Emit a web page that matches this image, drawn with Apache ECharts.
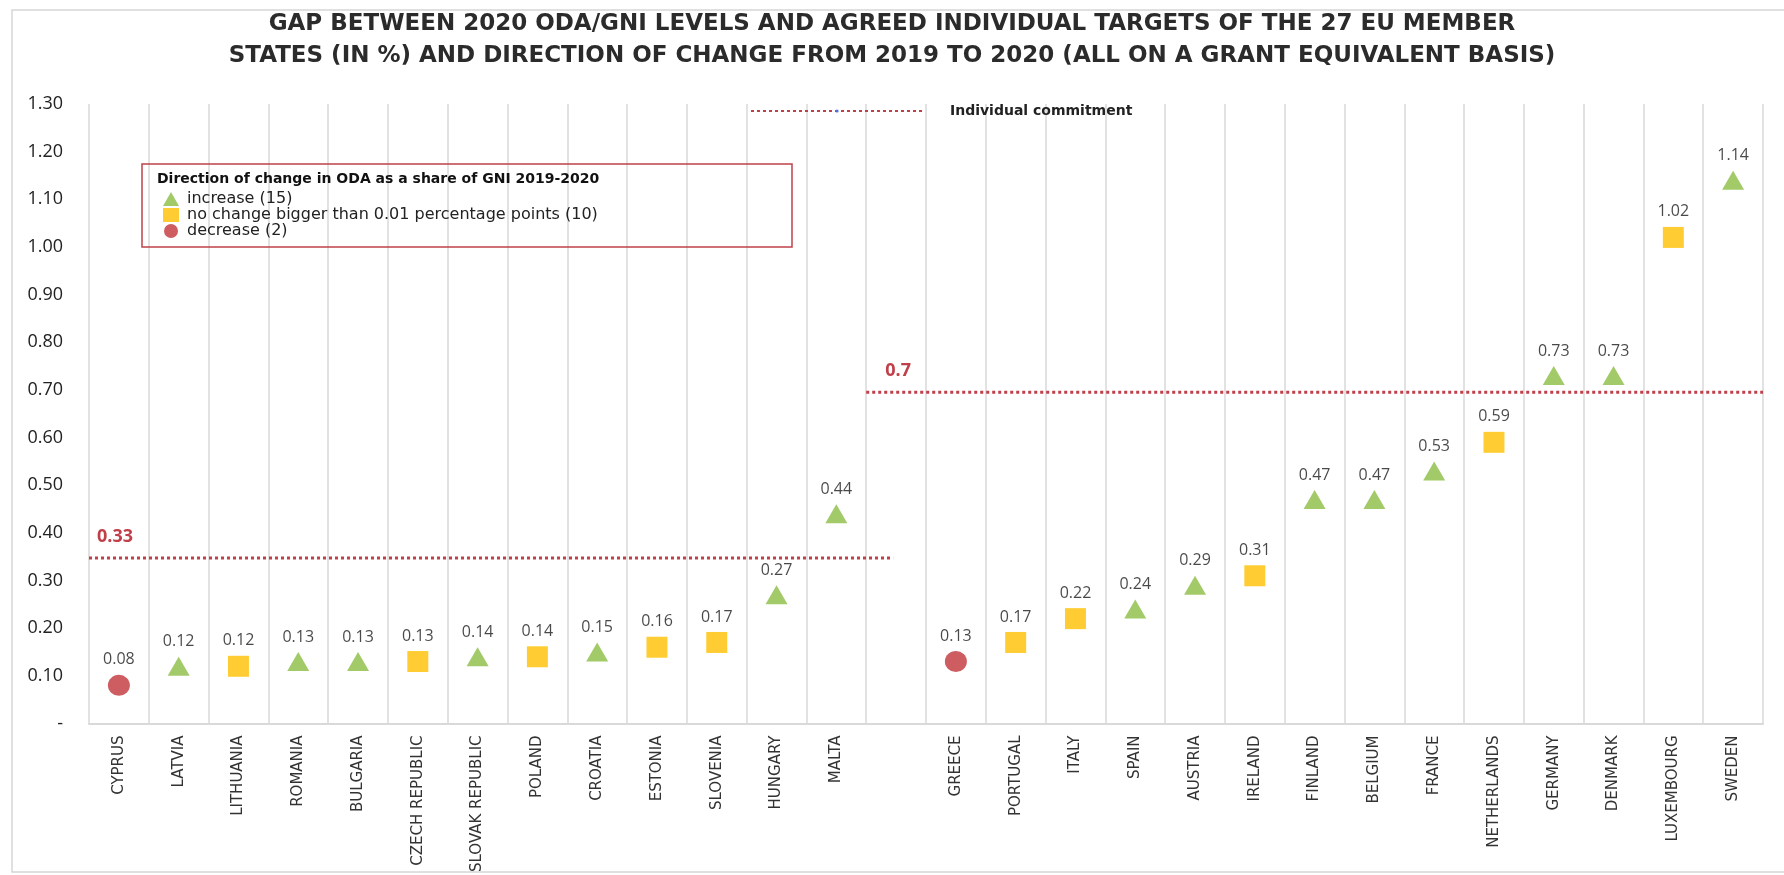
<!DOCTYPE html>
<html>
<head>
<meta charset="utf-8">
<script src="https://cdn.jsdelivr.net/npm/echarts@6/dist/echarts.min.js"></script>
<style>
  html, body { margin: 0; padding: 0; background: #fff; }
  #box { width: 1784px; height: 875px; }
</style>
</head>
<body>
<div id="box"></div>
<script>
// countries, '' is the empty slot between the two groups
var countries = ['CYPRUS', 'LATVIA', 'LITHUANIA', 'ROMANIA', 'BULGARIA', 'CZECH REPUBLIC', 'SLOVAK REPUBLIC',
  'POLAND', 'CROATIA', 'ESTONIA', 'SLOVENIA', 'HUNGARY', 'MALTA', '',
  'GREECE', 'PORTUGAL', 'ITALY', 'SPAIN', 'AUSTRIA', 'IRELAND', 'FINLAND', 'BELGIUM', 'FRANCE',
  'NETHERLANDS', 'GERMANY', 'DENMARK', 'LUXEMBOURG', 'SWEDEN'];
// ODA/GNI 2020 (%)
var odaGni = [0.08, 0.12, 0.12, 0.13, 0.13, 0.13, 0.14, 0.14, 0.15, 0.16, 0.17, 0.27, 0.44, null,
  0.13, 0.17, 0.22, 0.24, 0.29, 0.31, 0.47, 0.47, 0.53, 0.59, 0.73, 0.73, 1.02, 1.14];
// direction of change 2019-2020: up / same / down
var direction = ['down', 'up', 'same', 'up', 'up', 'same', 'up', 'same', 'up', 'same', 'same', 'up', 'up', '',
  'down', 'same', 'same', 'up', 'up', 'same', 'up', 'up', 'up', 'same', 'up', 'up', 'same', 'up'];
// individual commitments (label, level as drawn, span in category slots)
var commitLabels = ['0.33', '0.7'];
var commitLevels = [0.347, 0.695];
var commitSpans = [[0, 13.45], [13, 28]];
var yTicks = [0, 1.3, 0.1];

var groups = [
  { key: 'up', name: 'increase (15)', symbol: 'triangle', size: [22, 19], color: '#8cbd42' },
  { key: 'same', name: 'no change bigger than 0.01 percentage points (10)', symbol: 'rect', size: [21, 21], color: '#ffc000' },
  { key: 'down', name: 'decrease (2)', symbol: 'circle', size: [22, 21], color: '#c0343a' }
];

var series = groups.map(function (g) {
  var data = [];
  countries.forEach(function (c, i) {
    if (direction[i] === g.key) data.push([i, odaGni[i]]);
  });
  return {
    name: g.name,
    type: 'scatter',
    symbol: g.symbol,
    symbolSize: g.size,
    itemStyle: { color: g.color },
    label: {
      show: true,
      position: 'top',
      distance: 7,
      fontFamily: 'Open Sans',
      fontSize: 16,
      color: '#1a1a1a',
      formatter: function (p) { return p.value[1].toFixed(2); }
    },
    data: data
  };
});

commitLevels.forEach(function (lv, k) {
  series.push({
    name: 'Individual commitment',
    type: 'line',
    xAxisIndex: 1,
    symbol: 'none',
    silent: true,
    lineStyle: { color: '#c0404a', width: 3, type: [3, 3] },
    data: [[commitSpans[k][0], lv], [commitSpans[k][1], lv]],
    markPoint: {
      symbol: 'rect',
      symbolSize: 1,
      itemStyle: { color: 'transparent' },
      label: {
        show: true,
        position: 'inside',
        offset: [k === 0 ? 26 : 20, -21],
        fontFamily: 'Open Sans',
        fontWeight: 'bold',
        fontSize: 18,
        color: '#c0404a',
        formatter: commitLabels[k]
      },
      data: [{ coord: [commitSpans[k][0] + (k === 0 ? 0 : 0.2), lv] }]
    }
  });
});

var myChart = echarts.init(document.getElementById('box'));
myChart.setOption({
  animation: false,
  title: {
    text: 'GAP BETWEEN 2020 ODA/GNI LEVELS AND AGREED INDIVIDUAL TARGETS OF THE 27 EU MEMBER\nSTATES (IN %) AND DIRECTION OF CHANGE FROM 2019 TO 2020 (ALL ON A GRANT EQUIVALENT BASIS)',
    left: 'center',
    top: 3,
    textStyle: { fontFamily: 'DejaVu Sans', fontWeight: 'bold', fontSize: 23, color: '#2b2b2b', lineHeight: 32 }
  },
  grid: { left: 89, right: 21, top: 104, bottom: 148 },
  legend: [
    {
      data: groups.map(function (g) { return g.name; }),
      orient: 'vertical',
      left: 158,
      top: 186,
      itemGap: 0,
      itemWidth: 16,
      itemHeight: 14,
      textStyle: { fontFamily: 'DejaVu Sans', fontSize: 16, color: '#222', lineHeight: 15, padding: [0, 0, 0, 3] }
    },
    {
      data: ['Individual commitment'],
      left: 745,
      top: 99,
      itemWidth: 172,
      itemHeight: 4,
      textStyle: { fontFamily: 'DejaVu Sans', fontWeight: 'bold', fontSize: 14, color: '#222', padding: [0, 0, 0, 22] }
    }
  ],
  graphic: [
    {
      type: 'rect', silent: true,
      shape: { x: 12, y: 10, width: 1800, height: 862 },
      style: { fill: 'none', stroke: '#d6d6d6', lineWidth: 1.5 }
    },
    {
      type: 'rect', silent: true, z: 10,
      shape: { x: 142, y: 164, width: 650, height: 83 },
      style: { fill: 'none', stroke: '#c0404a', lineWidth: 1.5 }
    },
    {
      type: 'text', silent: true, z: 11,
      left: 157, top: 172,
      style: { text: 'Direction of change in ODA as a share of GNI 2019-2020', fontFamily: 'DejaVu Sans', fontWeight: 'bold', fontSize: 14, fill: '#111' }
    }
  ],
  xAxis: [
    {
      type: 'category',
      data: countries,
      boundaryGap: true,
      axisLine: { lineStyle: { color: '#d9d9d9', width: 2 } },
      axisTick: { show: false },
      splitLine: { show: true, lineStyle: { color: '#d9d9d9', width: 1.5 } },
      axisLabel: { interval: 0, rotate: 90, margin: 12, fontFamily: 'DejaVu Sans', fontSize: 15, color: '#333' }
    },
    { type: 'value', min: 0, max: countries.length, show: false }
  ],
  yAxis: {
    type: 'value',
    min: yTicks[0],
    max: yTicks[1],
    interval: yTicks[2],
    axisLine: { show: false },
    axisTick: { show: false },
    splitLine: { show: false },
    axisLabel: {
      margin: 26,
      fontFamily: 'Open Sans',
      fontSize: 18,
      color: '#222',
      formatter: function (v) { return v === 0 ? '-' : v.toFixed(2); }
    }
  },
  series: series
});
</script>
</body>
</html>
